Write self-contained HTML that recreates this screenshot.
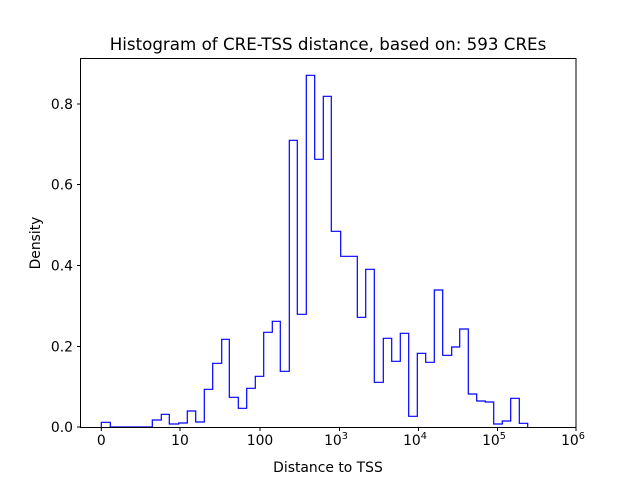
<!DOCTYPE html>
<html><head><style>body{margin:0;background:#fff}svg{display:block}text{font-family:"DejaVu Sans","Liberation Sans",sans-serif;fill:#000}</style></head>
<body>
<svg width="640" height="480" xmlns="http://www.w3.org/2000/svg">
<rect width="640" height="480" fill="#fff"/>
<polyline fill="none" stroke="#0000ff" stroke-width="1.2" points="101.3,427 101.3,422.3 110.3,422.3 110.3,427 152.3,427 152.3,420 161.3,420 161.3,414.3 169.3,414.3 169.3,424 178.7,424 178.7,423 187.3,423 187.3,411 195.7,411 195.7,422 204.3,422 204.3,389.3 212.7,389.3 212.7,363.3 221.7,363.3 221.7,339.3 229.3,339.3 229.3,397.3 238.3,397.3 238.3,408.3 246.7,408.3 246.7,388.3 255.3,388.3 255.3,376.3 263.7,376.3 263.7,332.3 272.3,332.3 272.3,321.3 280.3,321.3 280.3,371.3 289.3,371.3 289.3,140.3 297.3,140.3 297.3,314.3 306.3,314.3 306.3,75.3 314.7,75.3 314.7,159.3 323.3,159.3 323.3,96.3 331.3,96.3 331.3,231.3 340.7,231.3 340.7,256.3 357.3,256.3 357.3,317.3 365.7,317.3 365.7,269.3 374.3,269.3 374.3,382.3 383.3,382.3 383.3,338.3 391.7,338.3 391.7,361.3 400.3,361.3 400.3,333.3 408.7,333.3 408.7,416.3 417.3,416.3 417.3,353.3 425.7,353.3 425.7,362.3 434.3,362.3 434.3,290 442.7,290 442.7,355.3 451.7,355.3 451.7,347 459.7,347 459.7,329 468.3,329 468.3,394 476.7,394 476.7,401 485.3,401 485.3,402 493.7,402 493.7,424 502.3,424 502.3,421 510.7,421 510.7,398.3 519.3,398.3 519.3,423.3 527.7,423.3 527.7,427"/>
<rect x="80.5" y="58.5" width="495.5" height="369" fill="none" stroke="#000" stroke-width="1"/>
<g stroke="#000" stroke-width="1">
<line x1="101.3" y1="427.5" x2="101.3" y2="431"/><line x1="180" y1="427.5" x2="180" y2="431"/><line x1="260" y1="427.5" x2="260" y2="431"/><line x1="339.5" y1="427.5" x2="339.5" y2="431"/><line x1="418.5" y1="427.5" x2="418.5" y2="431"/><line x1="497.5" y1="427.5" x2="497.5" y2="431"/><line x1="576" y1="427.5" x2="576" y2="431"/>
<line x1="77" y1="427" x2="80.5" y2="427"/><line x1="77" y1="346.5" x2="80.5" y2="346.5"/><line x1="77" y1="265.5" x2="80.5" y2="265.5"/><line x1="77" y1="184.5" x2="80.5" y2="184.5"/><line x1="77" y1="104" x2="80.5" y2="104"/>
</g>
<g font-size="13.9" text-anchor="middle">
<text x="101.3" y="445">0</text><text x="180" y="445">10</text><text x="260" y="445">100</text>
<text x="336" y="445">10<tspan font-size="9.7" dy="-6">3</tspan></text>
<text x="415" y="445">10<tspan font-size="9.7" dy="-6">4</tspan></text>
<text x="494" y="445">10<tspan font-size="9.7" dy="-6">5</tspan></text>
<text x="573" y="445">10<tspan font-size="9.7" dy="-6">6</tspan></text>
</g>
<g font-size="13.9" text-anchor="end">
<text x="73" y="432">0.0</text><text x="73" y="351.5">0.2</text><text x="73" y="270.5">0.4</text><text x="73" y="189.5">0.6</text><text x="73" y="109">0.8</text>
</g>
<text x="328" y="472" font-size="13.9" text-anchor="middle">Distance to TSS</text>
<text x="40" y="243" font-size="13.9" text-anchor="middle" transform="rotate(-90 40 243)">Density</text>
<text x="328" y="50" font-size="16.7" text-anchor="middle">Histogram of CRE-TSS distance, based on: 593 CREs</text>
</svg>
</body></html>
